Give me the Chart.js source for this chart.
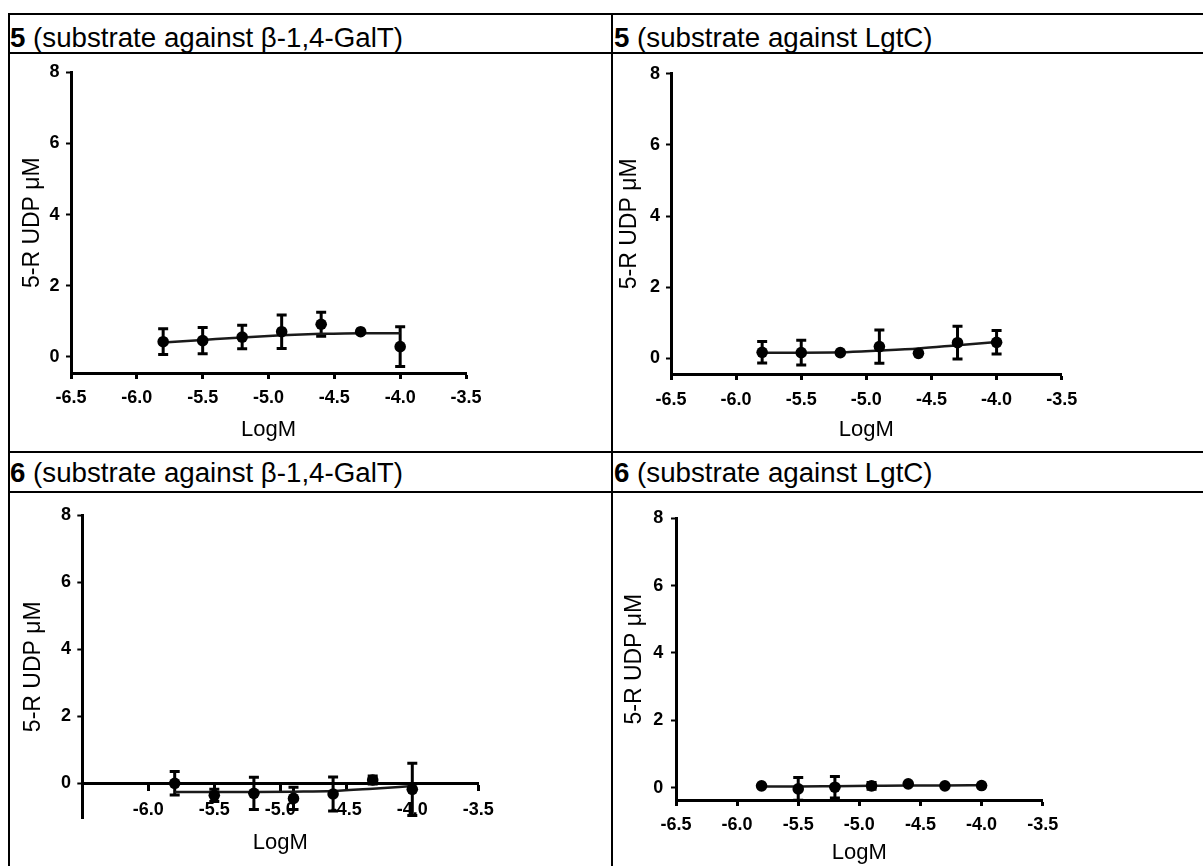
<!DOCTYPE html>
<html><head><meta charset="utf-8">
<script src="https://cdn.jsdelivr.net/npm/chart.js@4"></script>
<style>
html,body{margin:0;padding:0;background:#fff;}
body{width:1203px;height:866px;position:relative;overflow:hidden;font-family:"Liberation Sans",Arial,sans-serif;}
.ln{position:absolute;background:#000;}
.hd{position:absolute;font-size:27.7px;line-height:39px;white-space:nowrap;color:#000;}
canvas{position:absolute;}
</style></head><body>
<div class="ln" style="left:8px;top:13px;width:1195px;height:2px"></div>
<div class="ln" style="left:8px;top:52px;width:1195px;height:2px"></div>
<div class="ln" style="left:8px;top:451px;width:1195px;height:2px"></div>
<div class="ln" style="left:8px;top:491px;width:1195px;height:2px"></div>
<div class="ln" style="left:8px;top:13px;width:2px;height:853px"></div>
<div class="ln" style="left:611px;top:13px;width:2px;height:853px"></div>
<div class="hd" style="left:10px;top:17.5px"><b>5</b> (substrate against β-1,4-GalT)</div>
<div class="hd" style="left:614px;top:17.5px"><b>5</b> (substrate against LgtC)</div>
<div class="hd" style="left:10px;top:452.5px"><b>6</b> (substrate against β-1,4-GalT)</div>
<div class="hd" style="left:614px;top:452.5px"><b>6</b> (substrate against LgtC)</div>
<canvas id="c1" width="601" height="396" style="left:10px;top:55px"></canvas>
<canvas id="c2" width="589" height="396" style="left:614px;top:55px"></canvas>
<canvas id="c3" width="601" height="372" style="left:10px;top:494px"></canvas>
<canvas id="c4" width="589" height="372" style="left:614px;top:494px"></canvas>
<script>
// ---- data ----
const logM = [-5.8, -5.5, -5.2, -4.9, -4.6, -4.3, -4.0];

const galt5Mean = [0.43, 0.46, 0.56, 0.71, 0.92, 0.71, 0.29];
const galt5Err  = [0.36, 0.37, 0.33, 0.47, 0.34, 0, 0.56];
const galt5Fit  = [0.41, 0.48, 0.55, 0.61, 0.65, 0.67, 0.67];

const lgtc5Mean = [0.17, 0.16, 0.16, 0.33, 0.14, 0.44, 0.45];
const lgtc5Err  = [0.30, 0.35, 0, 0.47, 0, 0.46, 0.33];
const lgtc5Fit  = [0.16, 0.16, 0.17, 0.22, 0.28, 0.37, 0.46];

const galt6Mean = [0.0, -0.36, -0.30, -0.45, -0.32, 0.10, -0.18];
const galt6Err  = [0.35, 0.18, 0.48, 0.33, 0.51, 0.12, 0.78];
const galt6Fit  = [-0.26, -0.26, -0.26, -0.25, -0.23, -0.16, -0.08];

const lgtc6Mean = [0.05, -0.04, 0.01, 0.05, 0.11, 0.05, 0.06];
const lgtc6Err  = [0, 0.34, 0.32, 0.10, 0, 0, 0];
const lgtc6Fit  = [0.03, 0.03, 0.04, 0.05, 0.06, 0.06, 0.07];

const xTicks = [-6.5, -6.0, -5.5, -5.0, -4.5, -4.0, -3.5];
const xTickLabels = ['-6.5', '-6.0', '-5.5', '-5.0', '-4.5', '-4.0', '-3.5'];
const xTicksCrossed = [-6.0, -5.5, -5.0, -4.5, -4.0, -3.5];
const xTickLabelsCrossed = ['-6.0', '-5.5', '-5.0', '-4.5', '-4.0', '-3.5'];
const yTicks = [0, 2, 4, 6, 8];
const yTickLabels = ['0', '2', '4', '6', '8'];

const xTitle = 'LogM';
const yTitle = '5-R UDP μM';

// ---- drawing ----
const FONT = '"Liberation Sans", Arial, sans-serif';

const errorBars = {
  id: 'errorBars',
  beforeDatasetsDraw(chart) {
    const {ctx, scales: {x, y}} = chart;
    const ds = chart.data.datasets[1];
    ctx.save();
    ctx.strokeStyle = '#000';
    ctx.lineWidth = 3;
    ds.data.forEach((p, i) => {
      const e = ds.errors[i];
      if (!e) return;
      const px = x.getPixelForValue(p.x);
      const t = y.getPixelForValue(p.y + e);
      const b = y.getPixelForValue(p.y - e);
      ctx.beginPath();
      ctx.moveTo(px, t); ctx.lineTo(px, b);
      ctx.moveTo(px - 5, t); ctx.lineTo(px + 5, t);
      ctx.moveTo(px - 5, b); ctx.lineTo(px + 5, b);
      ctx.stroke();
    });
    ctx.restore();
  }
};

function makeChart(id, p) {
  return new Chart(document.getElementById(id), {
    type: 'scatter',
    data: {
      datasets: [
        {
          type: 'line',
          data: logM.map((x, i) => ({x, y: p.fit[i]})),
          borderColor: '#1a1a1a', borderWidth: 2.5, pointRadius: 0,
          fill: false, cubicInterpolationMode: 'monotone', order: 2
        },
        {
          data: logM.map((x, i) => ({x, y: p.mean[i]})),
          errors: p.err,
          backgroundColor: '#000', borderColor: '#000', borderWidth: 0,
          pointRadius: 5.8, pointHoverRadius: 5.8, order: 1
        }
      ]
    },
    plugins: [errorBars],
    options: {
      responsive: false, animation: false, devicePixelRatio: 1, events: [],
      layout: {padding: p.pad},
      plugins: {legend: {display: false}, tooltip: {enabled: false}},
      scales: {
        x: {
          type: 'linear', position: p.xPos, min: -6.5, max: -3.5,
          afterBuildTicks: s => { s.ticks = p.xTicks.map(v => ({value: v})); },
          afterFit: s => { s.height = p.xH; },
          ticks: {
            autoSkip: false, maxRotation: 0, minRotation: 0, padding: p.xTickPad,
            color: '#000', font: {family: FONT, size: 18, weight: 'bold'},
            callback: (v, i) => p.xLabels[i]
          },
          grid: {display: true, drawOnChartArea: false, drawTicks: true, tickLength: 6, tickWidth: 3, tickColor: '#000', color: '#000'},
          border: {display: true, color: '#000', width: 3},
          title: {display: true, text: xTitle, color: '#000', font: {family: FONT, size: 22, lineHeight: 1.2}, padding: {top: 0, bottom: p.xTitlePad}}
        },
        y: {
          type: 'linear', position: 'left', min: p.yMin, max: 8,
          afterBuildTicks: s => { s.ticks = yTicks.map(v => ({value: v})); },
          afterFit: s => { s.width = p.yW; },
          ticks: {
            padding: p.yTickPad, color: '#000', font: {family: FONT, size: 18, weight: 'bold'},
            callback: (v, i) => yTickLabels[i]
          },
          grid: {display: true, drawOnChartArea: false, drawTicks: true, tickLength: 5, tickWidth: 2, tickColor: '#000', color: '#000'},
          border: {display: true, color: '#000', width: 3},
          title: {display: true, text: yTitle, color: '#000', font: {family: FONT, size: 23, lineHeight: 1.2}, padding: {top: p.yTitlePad, bottom: 0}}
        }
      }
    }
  });
}

makeChart('c1', {
  mean: galt5Mean, err: galt5Err, fit: galt5Fit, xTicks: xTicks, xLabels: xTickLabels,
  xPos: 'bottom', yMin: -0.45, yW: 61, xH: 78,
  pad: {left: 0, top: 16, right: 145, bottom: 0},
  xTickPad: 8.2, yTickPad: 6.5, xTitlePad: 7.8, yTitlePad: 8.7
});
makeChart('c2', {
  mean: lgtc5Mean, err: lgtc5Err, fit: lgtc5Fit, xTicks: xTicks, xLabels: xTickLabels,
  xPos: 'bottom', yMin: -0.44, yW: 57, xH: 77,
  pad: {left: 0, top: 18.7, right: 141.3, bottom: 0},
  xTickPad: 9.2, yTickPad: 6, xTitlePad: 7.8, yTitlePad: 1.7
});
makeChart('c3', {
  mean: galt6Mean, err: galt6Err, fit: galt6Fit, xTicks: xTicksCrossed, xLabels: xTickLabelsCrossed,
  xPos: {y: 0}, yMin: -1.05, yW: 72.3, xH: 80.7,
  pad: {left: 0, top: 21, right: 132.7, bottom: 47.5},
  xTickPad: 9.9, yTickPad: 6.3, xTitlePad: 7.8, yTitlePad: 10.2
});
makeChart('c4', {
  mean: lgtc6Mean, err: lgtc6Err, fit: lgtc6Fit, xTicks: xTicks, xLabels: xTickLabels,
  xPos: 'bottom', yMin: -0.37, yW: 62, xH: 66,
  pad: {left: 0, top: 24.3, right: 160.3, bottom: 0},
  xTickPad: 8.2, yTickPad: 7.7, xTitlePad: 0, yTitlePad: 6.7
});
</script>
</body></html>
